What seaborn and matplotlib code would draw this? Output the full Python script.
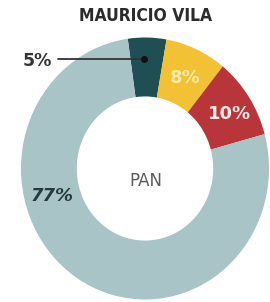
import matplotlib
matplotlib.use("Agg")
import matplotlib.pyplot as plt
import seaborn as sns

sns.set_theme(style="white")
plt.rcParams['font.family'] = ['DejaVu Sans']

title = "MAURICIO VILA"
center_label = "PAN"
labels = ["5%", "8%", "10%", "77%"]
values = [5, 8, 10, 77]
colors = ["#1f4e54", "#f2c234", "#b8363a", "#a9c4c6"]

W, H = 270, 302
fig = plt.figure(figsize=(W / 100, H / 100), dpi=100)
cx, cy, rx, ry = 145, 168.5, 124, 131
ax = fig.add_axes([(cx - rx) / W, (H - cy - ry) / H, 2 * rx / W, 2 * ry / H])
ax.pie(values, colors=sns.color_palette(colors), startangle=98, counterclock=False,
       radius=1.0, wedgeprops=dict(width=0.45, edgecolor="none"))
ax.set_xlim(-1, 1)
ax.set_ylim(-1, 1)
ax.set_aspect("auto")
ax.axis("off")


def px(x, y):
    return (x / W, 1 - y / H)


fig.text(*px(146, 16), title, ha="center", va="center", fontsize=12.5,
         fontweight="heavy", fontstretch="condensed", color="#2b2b2b",
         family=["DejaVu Sans Condensed", "DejaVu Sans"])
fig.text(*px(146, 181), center_label, ha="center", va="center", fontsize=12,
         color="#5a5a5a")

# 5% label with leader line
fig.text(*px(37, 61), labels[0], ha="center", va="center", fontsize=12.5,
         fontweight="bold", color="#333333")
fig.add_artist(plt.Line2D([58 / W, 144 / W], [1 - 59 / H, 1 - 59 / H],
                          color="#333333", lw=1.3))
fig.add_artist(plt.Line2D([144 / W], [1 - 59 / H], marker="o", markersize=4,
                          color="#111111"))
fig.text(*px(185, 78), labels[1], ha="center", va="center", fontsize=13,
         fontweight="bold", color="#f8eaa8")
fig.text(*px(229, 114), labels[2], ha="center", va="center", fontsize=13,
         fontweight="bold", color="#f6e9e6")
fig.text(*px(52, 196), labels[3], ha="center", va="center", fontsize=13,
         fontweight="bold", style="italic", color="#243a3c")

fig.savefig("out.png", dpi=100)
